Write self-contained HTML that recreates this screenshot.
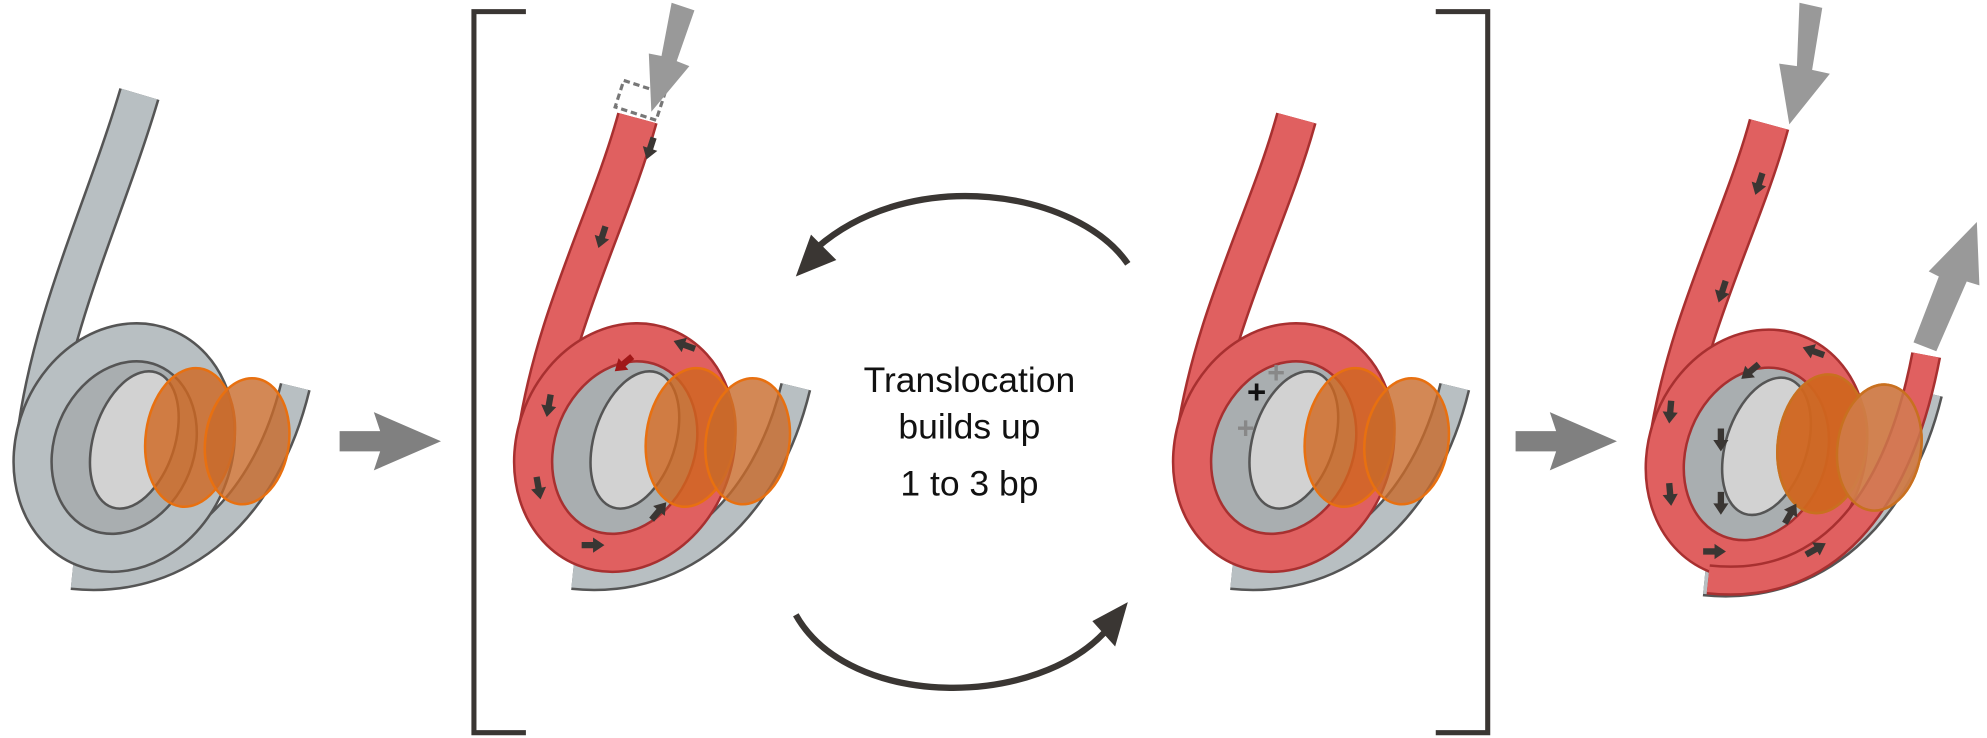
<!DOCTYPE html>
<html><head><meta charset="utf-8"><style>
html,body{margin:0;padding:0;background:#fff;}
svg{display:block}
</style></head><body>
<svg width="1987" height="738" viewBox="0 0 1568 582" xmlns="http://www.w3.org/2000/svg">
<defs>
  <polygon id="sa" points="-2.5,-9 2.5,-9 2.5,0 6,0 0,9 -6,0 -2.5,0" fill="#3a3633"/>
  <g id="ring">
    <path d="M452,453 C540,462 605,400 628,305" fill="none" stroke="#555" stroke-width="25"/>
    <path d="M452,453 C540,462 605,400 628,305" fill="none" stroke="#b8bfc2" stroke-width="21"/>
    <ellipse cx="493" cy="353" rx="58" ry="82" transform="rotate(22 493 353)" fill="#a9aeb0"/>
    <ellipse cx="501" cy="347" rx="32" ry="56" transform="rotate(18 501 347)" fill="#d2d2d2" stroke="#555" stroke-width="2"/>
    <ellipse cx="493" cy="353" rx="70" ry="85" transform="rotate(22 493 353)" fill="none" stroke="var(--o)" stroke-width="32"/>
    <ellipse cx="493" cy="353" rx="70" ry="85" transform="rotate(22 493 353)" fill="none" stroke="var(--c)" stroke-width="28"/>
    <ellipse cx="545" cy="345" rx="35" ry="55" transform="rotate(8 545 345)" fill="#d0661f" fill-opacity=".8" stroke="#e87010" stroke-width="2"/>
    <ellipse cx="590" cy="348" rx="33" ry="50" transform="rotate(8 590 348)" fill="#c86a2a" fill-opacity=".8" stroke="#e87010" stroke-width="2"/>
  </g>
</defs>

<path d="M415,9 H374 V578 H415" fill="none" stroke="#3a3633" stroke-width="4"/>
<path d="M1133,9 H1174 V578 H1133" fill="none" stroke="#3a3633" stroke-width="4"/>

<polygon points="268,340 300,340 295,325 348,348 295,371 300,356 268,356" fill="#808080"/>
<polygon points="1196,340 1228,340 1223,325 1276,348 1223,371 1228,356 1196,356" fill="#808080"/>

<g transform="translate(-395,0)" style="--c:#b8bfc2;--o:#555">
  <path d="M505,74 C478,165 436,250 424,345" stroke="#555" stroke-width="33" fill="none"/>
  <path d="M505,74 C478,165 436,250 424,345" stroke="#b8bfc2" stroke-width="29" fill="none"/>
  <use href="#ring"/>
</g>

<g style="--c:#e06060;--o:#a83030">
  <path d="M503,93 C482,170 438,250 424,345" stroke="#a83030" stroke-width="33" fill="none"/>
  <path d="M503,93 C482,170 438,250 424,345" stroke="#e06060" stroke-width="29" fill="none"/>
  <use href="#ring"/>
  <rect x="488" y="68" width="34" height="22" transform="rotate(18 505 79)" fill="none" stroke="#777" stroke-width="2.5" stroke-dasharray="5,3"/>
  <polygon points="530,2 548,8 534,48 544,52 514,88 512,42 522,44" fill="#999"/>
  <use href="#sa" transform="translate(513,117) rotate(18)"/>
  <use href="#sa" transform="translate(475,187) rotate(18)"/>
  <use href="#sa" transform="translate(433,320) rotate(10)"/>
  <use href="#sa" transform="translate(425,385) rotate(-10)"/>
  <use href="#sa" transform="translate(468,430) rotate(-90)"/>
  <use href="#sa" transform="translate(520,403) rotate(-140)"/>
  <use href="#sa" transform="translate(540,272) rotate(110)"/>
  <polygon points="-2.5,-9 2.5,-9 2.5,0 6,0 0,9 -6,0 -2.5,0" fill="#a01818" transform="translate(492,287) rotate(50)"/>
</g>

<g transform="translate(520,0)" style="--c:#e06060;--o:#a83030">
  <path d="M503,93 C482,170 438,250 424,345" stroke="#a83030" stroke-width="33" fill="none"/>
  <path d="M503,93 C482,170 438,250 424,345" stroke="#e06060" stroke-width="29" fill="none"/>
  <use href="#ring"/>
  <text x="464" y="318" font-family="Liberation Sans, sans-serif" font-size="26" font-weight="bold" fill="#111">+</text>
  <text x="480" y="302" font-family="Liberation Sans, sans-serif" font-size="24" font-weight="bold" fill="#888">+</text>
  <text x="456" y="346" font-family="Liberation Sans, sans-serif" font-size="24" font-weight="bold" fill="#888">+</text>
</g>

<g transform="translate(893,5)" style="--c:#e06060;--o:#a83030">
  <path d="M503,93 C482,170 438,250 424,345" stroke="#a83030" stroke-width="33" fill="none"/>
  <path d="M503,93 C482,170 438,250 424,345" stroke="#e06060" stroke-width="29" fill="none"/>
  <use href="#ring"/>
</g>
<path d="M1348,457 C1440,467 1497,400 1520,280" fill="none" stroke="#a83030" stroke-width="24"/>
<path d="M1348,457 C1440,467 1497,400 1520,280" fill="none" stroke="#e06060" stroke-width="20"/>
<ellipse cx="1438" cy="350" rx="35" ry="55" transform="rotate(8 1438 350)" fill="#d0661f" fill-opacity=".75" stroke="#c87020" stroke-width="2"/>
<ellipse cx="1483" cy="353" rx="33" ry="50" transform="rotate(8 1483 353)" fill="#d08050" fill-opacity=".75" stroke="#c87020" stroke-width="2"/>
<g transform="translate(893,5)">
  <use href="#sa" transform="translate(495,140) rotate(18)"/>
  <use href="#sa" transform="translate(466,225) rotate(18)"/>
  <use href="#sa" transform="translate(425,320) rotate(5)"/>
  <use href="#sa" transform="translate(425,385) rotate(-5)"/>
  <use href="#sa" transform="translate(465,342) rotate(0)"/>
  <use href="#sa" transform="translate(465,392) rotate(0)"/>
  <use href="#sa" transform="translate(460,430) rotate(-90)"/>
  <use href="#sa" transform="translate(520,400) rotate(-150)"/>
  <use href="#sa" transform="translate(540,428) rotate(-120)"/>
  <use href="#sa" transform="translate(538,272) rotate(110)"/>
  <use href="#sa" transform="translate(488,288) rotate(50)"/>
</g>
<polygon points="1420,2 1438,6 1430,55 1444,58 1412,98 1404,50 1418,52" fill="#999"/>
<polygon points="1528,277 1510,270 1530,218 1522,214 1560,175 1562,225 1552,222" fill="#999"/>

<path d="M890,208 C850,150 720,130 645,195" fill="none" stroke="#3a3633" stroke-width="5"/>
<polygon points="628,218 640,185 660,205" fill="#3a3633"/>
<path d="M628,485 C670,560 820,560 875,495" fill="none" stroke="#3a3633" stroke-width="5"/>
<polygon points="890,475 880,510 862,490" fill="#3a3633"/>

<g font-family="Liberation Sans, sans-serif" font-size="28" fill="#111" text-anchor="middle">
  <text x="765" y="309">Translocation</text>
  <text x="765" y="346">builds up</text>
  <text x="765" y="391">1 to 3 bp</text>
</g>
</svg>
</body></html>
